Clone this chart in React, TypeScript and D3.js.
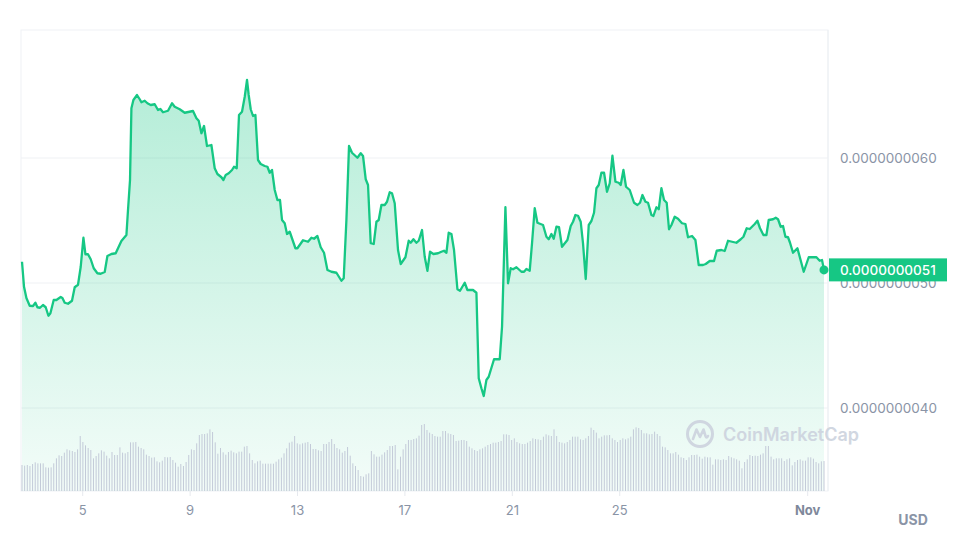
import React from "react";
import * as d3 from "d3";

// price series: [day of October 2023 (fractional, Nov 1 = 32), price in 1e-9 USD]
const priceSeries: [number, number][] = [
  [2.739, 5.17], [2.814, 4.97], [2.903, 4.88], [3.026, 4.818], [3.149, 4.816], [3.238, 4.842],
  [3.313, 4.806], [3.41, 4.802], [3.521, 4.824], [3.622, 4.806], [3.723, 4.738], [3.797, 4.758],
  [3.92, 4.864], [4.02, 4.864], [4.181, 4.888], [4.244, 4.88], [4.33, 4.842], [4.453, 4.834],
  [4.601, 4.858], [4.702, 4.966], [4.825, 4.986], [4.926, 5.13], [5.026, 5.362], [5.101, 5.23],
  [5.197, 5.23], [5.298, 5.19], [5.41, 5.118], [5.547, 5.078], [5.67, 5.074], [5.819, 5.088],
  [5.92, 5.216], [6.069, 5.232], [6.229, 5.238], [6.341, 5.29], [6.441, 5.336], [6.628, 5.384],
  [6.687, 5.584], [6.762, 5.824], [6.814, 6.398], [6.888, 6.464], [7.022, 6.504], [7.123, 6.47],
  [7.186, 6.446], [7.309, 6.458], [7.41, 6.438], [7.533, 6.424], [7.682, 6.43], [7.804, 6.384],
  [7.894, 6.392], [7.991, 6.366], [8.177, 6.378], [8.326, 6.438], [8.426, 6.41], [8.613, 6.39],
  [8.799, 6.362], [9.108, 6.376], [9.235, 6.318], [9.32, 6.298], [9.421, 6.198], [9.518, 6.256],
  [9.629, 6.096], [9.793, 6.104], [9.916, 5.918], [10.017, 5.872], [10.166, 5.846], [10.24, 5.824],
  [10.326, 5.864], [10.438, 5.878], [10.561, 5.904], [10.635, 5.93], [10.736, 5.918], [10.821, 6.344],
  [10.933, 6.37], [11.034, 6.49], [11.119, 6.624], [11.182, 6.504], [11.257, 6.39], [11.343, 6.336],
  [11.432, 6.344], [11.529, 5.984], [11.629, 5.952], [11.778, 5.936], [11.879, 5.93], [11.965, 5.882],
  [12.05, 5.904], [12.151, 5.744], [12.251, 5.664], [12.348, 5.664], [12.423, 5.504], [12.523, 5.478],
  [12.609, 5.392], [12.71, 5.41], [12.922, 5.278], [12.996, 5.278], [13.205, 5.342], [13.391, 5.33],
  [13.518, 5.362], [13.615, 5.354], [13.741, 5.376], [13.864, 5.286], [13.987, 5.242], [14.114, 5.104],
  [14.263, 5.09], [14.449, 5.082], [14.635, 5.018], [14.721, 5.038], [14.821, 5.504], [14.918, 6.096],
  [15.03, 6.042], [15.231, 6.002], [15.354, 6.038], [15.44, 6.016], [15.54, 5.83], [15.626, 5.784],
  [15.726, 5.318], [15.838, 5.312], [15.939, 5.49], [16.024, 5.504], [16.125, 5.624], [16.248, 5.624],
  [16.333, 5.65], [16.434, 5.726], [16.519, 5.718], [16.62, 5.638], [16.743, 5.264], [16.844, 5.152],
  [17.019, 5.206], [17.142, 5.338], [17.216, 5.322], [17.317, 5.35], [17.428, 5.322], [17.514, 5.338],
  [17.637, 5.424], [17.737, 5.21], [17.838, 5.098], [17.935, 5.25], [18.061, 5.232], [18.233, 5.238],
  [18.359, 5.25], [18.456, 5.258], [18.546, 5.242], [18.631, 5.402], [18.732, 5.392], [18.829, 5.264],
  [18.955, 4.95], [19.052, 4.938], [19.227, 5.002], [19.328, 4.944], [19.536, 4.944], [19.663, 4.922],
  [19.749, 4.238], [19.849, 4.158], [19.935, 4.096], [20.035, 4.224], [20.121, 4.25], [20.319, 4.39],
  [20.408, 4.39], [20.531, 4.39], [20.617, 4.65], [20.743, 5.606], [20.84, 4.998], [20.94, 5.118],
  [21.026, 5.11], [21.153, 5.126], [21.339, 5.09], [21.436, 5.09], [21.525, 5.112], [21.648, 5.098],
  [21.734, 5.318], [21.834, 5.598], [21.935, 5.482], [22.144, 5.464], [22.27, 5.37], [22.356, 5.35],
  [22.456, 5.392], [22.542, 5.354], [22.643, 5.45], [22.739, 5.446], [22.851, 5.29], [23.052, 5.344],
  [23.175, 5.456], [23.261, 5.49], [23.35, 5.544], [23.447, 5.538], [23.547, 5.49], [23.633, 5.318],
  [23.734, 5.032], [23.846, 5.464], [23.946, 5.496], [24.043, 5.562], [24.132, 5.758], [24.218, 5.784],
  [24.318, 5.882], [24.416, 5.882], [24.527, 5.73], [24.628, 5.798], [24.728, 6.018], [24.84, 5.81],
  [24.963, 5.802], [25.037, 5.784], [25.138, 5.904], [25.235, 5.77], [25.373, 5.744], [25.533, 5.642],
  [25.659, 5.624], [25.756, 5.642], [25.846, 5.704], [25.957, 5.65], [26.054, 5.642], [26.181, 5.544],
  [26.255, 5.536], [26.367, 5.606], [26.453, 5.59], [26.553, 5.758], [26.65, 5.664], [26.75, 5.642],
  [26.836, 5.43], [26.926, 5.464], [27.048, 5.53], [27.171, 5.514], [27.32, 5.478], [27.447, 5.472],
  [27.544, 5.366], [27.693, 5.376], [27.819, 5.344], [27.942, 5.144], [28.102, 5.144], [28.203, 5.152],
  [28.352, 5.176], [28.512, 5.176], [28.613, 5.258], [28.788, 5.264], [28.911, 5.256], [29.034, 5.338],
  [29.183, 5.33], [29.346, 5.322], [29.507, 5.35], [29.607, 5.37], [29.73, 5.438], [29.842, 5.432],
  [30.028, 5.472], [30.128, 5.498], [30.225, 5.438], [30.352, 5.384], [30.464, 5.384], [30.549, 5.504],
  [30.709, 5.51], [30.81, 5.522], [30.896, 5.51], [30.996, 5.45], [31.082, 5.456], [31.171, 5.37],
  [31.268, 5.366], [31.343, 5.322], [31.454, 5.242], [31.618, 5.278], [31.853, 5.09], [32.039, 5.206],
  [32.162, 5.206], [32.326, 5.206], [32.448, 5.178], [32.534, 5.184], [32.608, 5.105],
];

// trading volume (thousand USD), evenly spaced over the period
const volumeValues: number[] = [
  78, 76, 78, 75, 81, 86, 83, 83, 83, 71, 70, 71, 83, 98, 107, 105, 115, 125, 122, 120,
  117, 125, 165, 147, 137, 129, 123, 98, 105, 113, 122, 118, 106, 98, 117, 108, 108, 131, 115, 113,
  117, 146, 146, 147, 133, 129, 125, 109, 105, 100, 101, 89, 86, 91, 102, 101, 102, 93, 85, 73,
  81, 75, 87, 108, 125, 123, 143, 168, 171, 171, 173, 185, 177, 146, 112, 129, 116, 109, 117, 121,
  116, 113, 118, 118, 133, 135, 113, 93, 83, 89, 91, 82, 82, 82, 82, 82, 88, 95, 100, 113,
  128, 145, 148, 165, 143, 140, 143, 145, 147, 141, 126, 126, 122, 120, 141, 141, 147, 156, 141, 129,
  125, 115, 120, 132, 106, 83, 75, 63, 45, 43, 50, 53, 120, 110, 103, 103, 109, 116, 123, 135,
  135, 138, 65, 103, 125, 141, 153, 153, 156, 158, 166, 198, 201, 183, 175, 171, 165, 163, 163, 180,
  180, 173, 171, 168, 150, 151, 153, 153, 150, 133, 128, 123, 120,
  125, 128, 133, 138, 141, 145, 145, 147, 150, 170, 170, 168, 153, 158, 147, 143, 141, 141, 145, 150,
  158, 156, 155, 153, 163, 170, 167, 165, 185, 165, 147, 145, 143, 147, 153, 163, 163, 163, 155, 153,
  158, 165, 190, 183, 175, 158, 163, 167, 167, 168, 158, 153, 147, 153, 158, 155, 158, 163, 185, 191,
  189, 183, 173, 173, 170, 171, 178, 171, 165, 133, 131, 123, 113, 113, 117, 109, 101, 99, 93, 101,
  108, 108, 109, 103, 97, 103, 101, 101, 79, 95, 95, 93, 95, 93, 105, 101, 98, 95, 91, 68,
  87, 95, 108, 105, 106, 105, 109, 113, 135, 135, 103, 95, 98, 98, 98, 90, 95, 98, 77, 87,
  93, 95, 91, 91, 101, 101, 97, 87, 83, 89, 90,
];

const yTickValues = [4, 5, 6]; // in 1e-9 USD
const xTickDates = ["2023-10-05", "2023-10-09", "2023-10-13", "2023-10-17", "2023-10-21", "2023-10-25", "2023-11-01"];
const currencyLabel = "USD";
const watermarkText = "CoinMarketCap";

const GREEN = "#16c784";
const GRAY = "#8a94a6";
const FONT = "Inter, 'Noto Sans', sans-serif";

const DAY_MS = 86400000;
const dayToDate = (d: number) => new Date(Date.UTC(2023, 9, 1) + (d - 1) * DAY_MS);

export default function App() {
  const W = 958;
  const H = 547;
  const frame = { left: 21, right: 828, top: 30, bottom: 491 };

  const data = priceSeries.map(([d, v]) => ({ t: dayToDate(d), v }));
  const t0 = data[0].t;
  const t1 = data[data.length - 1].t;

  const x = d3.scaleUtc().domain([t0, t1]).range([22, 824]);
  const y = d3.scaleLinear().domain([4, 6]).range([408, 158]);
  const yVol = d3.scaleLinear().domain([0, 240]).range([frame.bottom, frame.bottom - 80]);

  const line = d3
    .line<{ t: Date; v: number }>()
    .x((d) => x(d.t))
    .y((d) => y(d.v));
  const area = d3
    .area<{ t: Date; v: number }>()
    .x((d) => x(d.t))
    .y0(frame.bottom)
    .y1((d) => y(d.v));

  const volTime = d3
    .scaleLinear()
    .domain([0, volumeValues.length - 1])
    .range([t0.getTime(), t1.getTime()]);

  const last = data[data.length - 1];
  const lastLabel = (last.v * 1e-9).toFixed(10);

  const fmtDay = d3.utcFormat("%-d");
  const fmtMonth = d3.utcFormat("%b");
  const parse = d3.utcParse("%Y-%m-%d");

  return (
    <svg
      width={W}
      height={H}
      style={{ position: "absolute", left: 0, top: 0, background: "#fff" }}
      fontFamily={FONT}
    >
      <defs>
        <linearGradient id="fillGrad" gradientUnits="userSpaceOnUse" x1="0" y1={y(6.6)} x2="0" y2={frame.bottom}>
          <stop offset="0%" stopColor={GREEN} stopOpacity={0.32} />
          <stop offset="100%" stopColor={GREEN} stopOpacity={0.05} />
        </linearGradient>
      </defs>

      {/* frame */}
      <rect
        x={frame.left}
        y={frame.top}
        width={frame.right - frame.left}
        height={frame.bottom - frame.top}
        fill="none"
        stroke="#f0f2f5"
        strokeWidth={1}
      />
      <line x1={frame.right} x2={frame.right} y1={frame.top} y2={frame.bottom} stroke="#eceff3" />

      {/* grid */}
      {yTickValues.map((v) => (
        <line key={v} x1={frame.left} x2={frame.right} y1={y(v)} y2={y(v)} stroke="#eff1f4" strokeWidth={1} />
      ))}

      {/* area */}
      <path d={area(data) ?? ""} fill="url(#fillGrad)" />

      {/* volume bars */}
      {volumeValues.map((v, i) => {
        const xx = x(new Date(volTime(i)));
        return (
          <line
            key={i}
            x1={xx}
            x2={xx}
            y1={frame.bottom}
            y2={yVol(v)}
            stroke="#c3cad8"
            strokeWidth={1}
          />
        );
      })}

      {/* price line */}
      <path d={line(data) ?? ""} fill="none" stroke={GREEN} strokeWidth={2.3} strokeLinejoin="round" />
      <circle cx={x(last.t)} cy={y(last.v)} r={4.5} fill={GREEN} />

      {/* x ticks */}
      {xTickDates.map((s) => {
        const dt = parse(s)!;
        const xx = x(dt);
        const isMonth = dt.getUTCDate() === 1;
        return (
          <g key={s}>
            <line x1={xx} x2={xx} y1={frame.bottom} y2={frame.bottom + 5} stroke="#e6e9ee" />
            <text
              x={xx}
              y={515}
              textAnchor="middle"
              fontSize={13}
              fontWeight={isMonth ? 700 : 400}
              fill={isMonth ? "#7e889b" : GRAY}
            >
              {isMonth ? fmtMonth(dt) : fmtDay(dt)}
            </text>
          </g>
        );
      })}

      {/* y labels */}
      {yTickValues.map((v) => (
        <text key={v} x={840} y={y(v) + 5} fontSize={13.5} fill={GRAY}>
          {(v * 1e-9).toFixed(10)}
        </text>
      ))}

      {/* last price label */}
      <rect x={829} y={y(last.v) - 11.5} width={118} height={23} fill={GREEN} />
      <text x={840} y={y(last.v) + 5} fontSize={13.5} fill="#fff" fontWeight={500}>
        {lastLabel}
      </text>

      {/* currency */}
      <text x={913} y={525} textAnchor="middle" fontSize={14} fontWeight={700} fill={GRAY}>
        {currencyLabel}
      </text>

      {/* watermark */}
      <g opacity={0.9}>
        <circle cx={700} cy={434} r={12.5} fill="none" stroke="#cdd3de" strokeWidth={3} />
        <path
          d="M693 439 L696.5 429.5 L700 437 L703.5 429.5 L705.5 436 Q706.5 439 708 436"
          fill="none"
          stroke="#cdd3de"
          strokeWidth={2.6}
          strokeLinecap="round"
          strokeLinejoin="round"
        />
        <text x={723} y={441} fontSize={18} fontWeight={600} fill="#cdd3de">
          {watermarkText}
        </text>
      </g>
    </svg>
  );
}
